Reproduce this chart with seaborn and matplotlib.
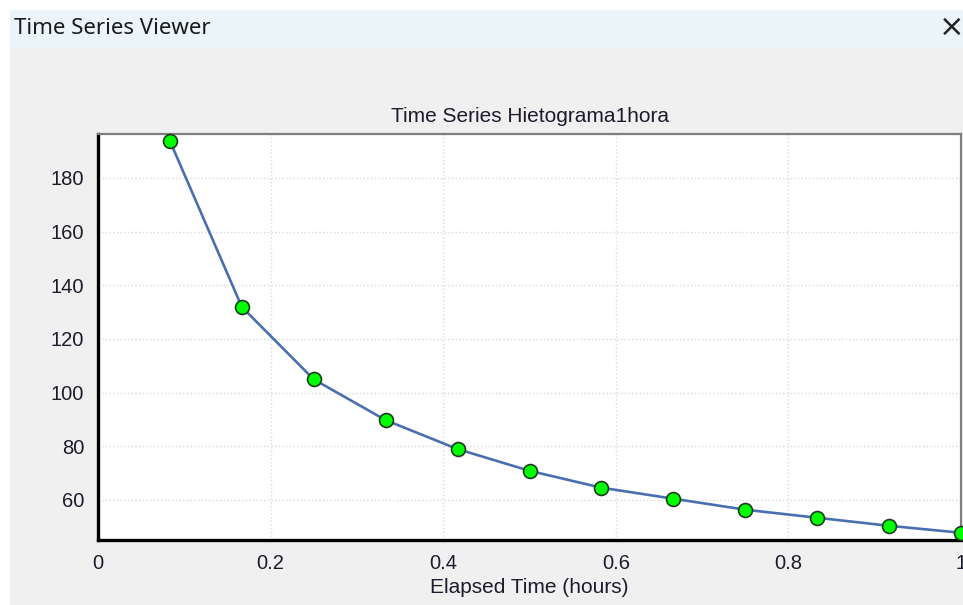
import numpy as np
import pandas as pd
import matplotlib.pyplot as plt
from matplotlib.patches import Rectangle
from matplotlib.ticker import MultipleLocator
import seaborn as sns

# Data (12 steps of 5 minutes)
elapsed_hours = [1/12, 2/12, 3/12, 4/12, 5/12, 6/12, 7/12, 8/12, 9/12, 10/12, 11/12, 12/12]
intensity = [193.8, 131.9, 104.9, 89.7, 78.9, 70.8, 64.5, 60.4, 56.3, 53.3, 50.3, 47.7]
x_ticks = [0, 0.2, 0.4, 0.6, 0.8, 1]
x_tick_labels = ['0', '0.2', '0.4', '0.6', '0.8', '1']
y_ticks = [60, 80, 100, 120, 140, 160, 180]

df = pd.DataFrame({'hours': elapsed_hours, 'value': intensity})

sns.set_style('white')
plt.rcParams['font.family'] = ['Liberation Sans', 'DejaVu Sans']

W, H = 963, 605
fig = plt.figure(figsize=(W / 100, H / 100), dpi=100, facecolor='white')

# window chrome: title bar + gray panel (behind the axes)
fig.patches.append(Rectangle((10 / W, 1 - 48 / H), 1, 38 / H, transform=fig.transFigure,
                             facecolor='#eaf4f9', edgecolor='none', zorder=-5))
fig.patches.append(Rectangle((10 / W, 0), 1, 1 - 48 / H, transform=fig.transFigure,
                             facecolor='#f0f0f0', edgecolor='none', zorder=-5))
fig.text(14 / W, 1 - 29 / H, 'Time Series Viewer', fontsize=16, color='#1a1a1a',
         va='center', ha='left', family=['Noto Sans', 'DejaVu Sans'])
fig.text(952 / W, 1 - 27 / H, '\u00d7', fontsize=22, color='#222222',
         va='center', ha='center', family=['DejaVu Sans'])

ax = fig.add_axes([98 / W, 1 - 540 / H, 863 / W, 406 / H])
ax.set_facecolor('white')

sns.lineplot(data=df, x='hours', y='value', ax=ax, color='#4a6fb0', linewidth=1.9,
             marker='o', markersize=10, markerfacecolor='#00ff00',
             markeredgecolor='#1e3a1e', markeredgewidth=1.2, clip_on=False, zorder=5)

ax.set_xlim(0, 1)
ax.set_ylim(45, 196.4)
ax.set_xticks(x_ticks)
ax.set_xticklabels(x_tick_labels)
ax.set_yticks(y_ticks)
ax.xaxis.set_minor_locator(MultipleLocator(0.05))
ax.yaxis.set_minor_locator(MultipleLocator(5))

ax.grid(True, which='major', color='#d9d9d9', linestyle=':', linewidth=1.0)
ax.tick_params(axis='both', which='major', direction='out', length=4, width=1.3,
               color='#8a8a8a', labelsize=14.5, labelcolor='#1c1c2c', pad=6)
ax.tick_params(axis='both', which='minor', direction='out', length=2.5, width=1.3,
               color='#8a8a8a')

for side in ['left', 'bottom']:
    ax.spines[side].set_color('black')
    ax.spines[side].set_linewidth(2.4)
for side in ['top', 'right']:
    ax.spines[side].set_color('#7f7f7f')
    ax.spines[side].set_linewidth(1.6)

ax.set_title('Time Series Hietograma1hora', fontsize=15, color='#1c1c2c', pad=9)
ax.set_xlabel('Elapsed Time (hours)', fontsize=15, color='#1c1c2c', labelpad=4)
ax.set_ylabel('')

fig.savefig('out.png', dpi=100, facecolor=fig.get_facecolor())
